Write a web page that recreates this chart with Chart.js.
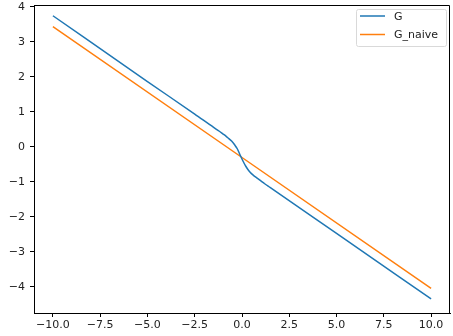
<!DOCTYPE html>
<html>
<head>
<meta charset="utf-8">
<script src="https://cdn.jsdelivr.net/npm/chart.js@4.4.0/dist/chart.umd.min.js"></script>
<style>
  html, body { margin: 0; padding: 0; background: #fff; }
  #wrap { width: 453px; height: 336px; }
</style>
</head>
<body>
<div id="wrap"><canvas id="chart" width="453" height="336"></canvas></div>
<script>
// values
const gX = [-10, -5, -2.5, -1.5, -1.2, -1.0, -0.85, -0.7, -0.55, -0.4, -0.25, -0.1,
            0.05, 0.2, 0.35, 0.5, 0.65, 0.8, 1.0, 1.2, 1.5, 5, 10];
const gY = [3.75, 1.87, 0.94, 0.56, 0.45, 0.37, 0.31, 0.24, 0.17, 0.07, -0.05, -0.23,
            -0.40, -0.55, -0.67, -0.76, -0.83, -0.89, -0.97, -1.05, -1.16, -2.47, -4.34];
const naiveX = [-10, 0, 10];
const naiveY = [3.44, -0.30, -4.04];
const xTicks = [-10, -7.5, -5, -2.5, 0, 2.5, 5, 7.5, 10];
const yTicks = [-4, -3, -2, -1, 0, 1, 2, 3, 4];
const labels = ['G', 'G_naive'];

const colors = { blue: '#1f77b4', orange: '#ff7f0e', ink: '#222' };
const font = { family: "'DejaVu Sans', sans-serif", size: 11 };
const minus = (s) => String(s).replace('-', '\u2212');

const toPoints = (xs, ys) => xs.map((x, i) => ({ x: x, y: ys[i] }));

// no automatic label padding, the plot box is fixed
const noPad = (scale) => {
    scale.paddingTop = 0;
    scale.paddingBottom = 0;
    scale.paddingLeft = 0;
    scale.paddingRight = 0;
};

// top/right spines
const framePlugin = {
    id: 'frame',
    afterDraw(chart) {
        const a = chart.chartArea, ctx = chart.ctx;
        const top = Math.round(a.top) + 0.5, right = Math.round(a.right) - 0.5;
        ctx.save();
        ctx.strokeStyle = '#000';
        ctx.lineWidth = 1;
        ctx.beginPath();
        ctx.moveTo(Math.round(a.left), top);
        ctx.lineTo(right, top);
        ctx.lineTo(right, Math.round(a.bottom));
        ctx.stroke();
        ctx.restore();
    }
};

// matplotlib-style legend box in the upper right
const legendPlugin = {
    id: 'mplLegend',
    afterDraw(chart) {
        const ctx = chart.ctx;
        const box = { x: 356, y: 9, w: 90, h: 37 };
        ctx.save();
        ctx.fillStyle = 'rgba(255,255,255,0.8)';
        ctx.strokeStyle = '#d9d9d9';
        ctx.lineWidth = 1;
        ctx.beginPath();
        ctx.roundRect(box.x + 0.5, box.y + 0.5, box.w, box.h, 2);
        ctx.fill();
        ctx.stroke();
        ctx.font = `${font.size}px ${font.family}`;
        ctx.textBaseline = 'middle';
        chart.data.datasets.forEach((ds, i) => {
            const y = box.y + 7 + i * 18.5;
            ctx.strokeStyle = ds.borderColor;
            ctx.lineWidth = 1.5;
            ctx.beginPath();
            ctx.moveTo(360, y);
            ctx.lineTo(385, y);
            ctx.stroke();
            ctx.fillStyle = colors.ink;
            ctx.fillText(ds.label, 394, y + 1);
        });
        ctx.restore();
    }
};

new Chart(document.getElementById('chart'), {
    type: 'line',
    data: {
        datasets: [
            {
                label: labels[0],
                data: toPoints(gX, gY),
                borderColor: colors.blue,
                borderWidth: 1.5,
                pointRadius: 0,
                cubicInterpolationMode: 'monotone'
            },
            {
                label: labels[1],
                data: toPoints(naiveX, naiveY),
                borderColor: colors.orange,
                borderWidth: 1.5,
                pointRadius: 0
            }
        ]
    },
    options: {
        responsive: false,
        animation: false,
        layout: { padding: { top: 5, right: 3, left: 0, bottom: 0 } },
        scales: {
            x: {
                type: 'linear',
                min: -11,
                max: 11,
                afterBuildTicks: (scale) => { scale.ticks = xTicks.map(v => ({ value: v })); },
                afterFit: (scale) => { scale.height = 23; noPad(scale); },
                grid: { drawOnChartArea: false, color: '#000', tickLength: 4 },
                border: { display: true, color: '#000' },
                ticks: {
                    color: colors.ink, font: font, padding: 2, maxRotation: 0,
                    callback: (v) => minus(v.toFixed(1))
                }
            },
            y: {
                type: 'linear',
                min: -4.743,
                max: 4.057,
                afterBuildTicks: (scale) => { scale.ticks = yTicks.map(v => ({ value: v })); },
                afterFit: (scale) => { scale.width = 34; noPad(scale); },
                grid: { drawOnChartArea: false, color: '#000', tickLength: 4 },
                border: { display: true, color: '#000' },
                ticks: {
                    color: colors.ink, font: font, padding: 5,
                    callback: (v) => minus(v)
                }
            }
        },
        plugins: {
            legend: { display: false },
            tooltip: { enabled: false }
        }
    },
    plugins: [framePlugin, legendPlugin]
});
</script>
</body>
</html>
